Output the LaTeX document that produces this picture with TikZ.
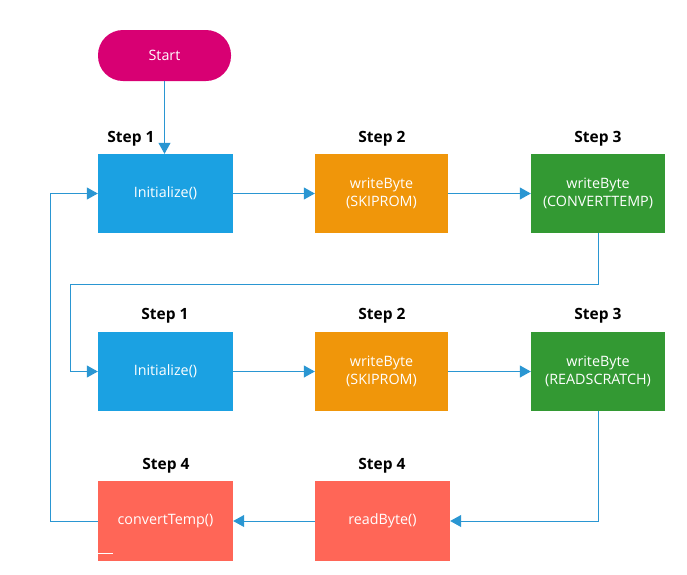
\documentclass[tikz,border=0pt]{standalone}
\usepackage{fontspec}
\setmainfont{Open Sans}
\usetikzlibrary{arrows.meta}
\definecolor{cblue}{HTML}{1BA1E2}
\definecolor{corange}{HTML}{F0960A}
\definecolor{cgreen}{HTML}{339933}
\definecolor{cred}{HTML}{FF6657}
\definecolor{cmag}{HTML}{D80073}
\definecolor{cline}{HTML}{2A96D2}
\tikzset{
  box/.style={minimum width=135pt,minimum height=79pt,inner sep=0pt,text=white,align=center,font=\fontsize{14.3}{17.5}\selectfont},
  steplabel/.style={font=\bfseries\fontsize{15.5}{18}\selectfont,inner sep=0pt},
  conn/.style={draw=cline,line width=1pt,-{Triangle[length=11pt,width=12pt]}}
}
\begin{document}
\begin{tikzpicture}[x=1pt,y=-1pt]
\useasboundingbox (0,0) rectangle (687,574);
\node[box,fill=cmag,rounded corners=25pt,minimum width=133pt,minimum height=51pt] (start) at (164.5,55.5) {Start};
% row 1
\node[box,fill=cblue] (a1) at (165.5,193.5) {Initialize()};
\node[box,fill=corange,minimum width=133pt] (a2) at (381.5,193.5) {writeByte\\(SKIPROM)};
\node[box,fill=cgreen,minimum width=134pt] (a3) at (598,193.5) {writeByte\\(CONVERTTEMP)};
% row 2
\node[box,fill=cblue] (b1) at (165.5,371.5) {Initialize()};
\node[box,fill=corange,minimum width=133pt] (b2) at (381.5,371.5) {writeByte\\(SKIPROM)};
\node[box,fill=cgreen,minimum width=134pt] (b3) at (598,371.5) {writeByte\\(READSCRATCH)};
% row 3
\node[box,fill=cred,minimum height=80pt] (c1) at (165.5,521) {convertTemp()};
\node[box,fill=cred,minimum height=80pt] (c2) at (382.5,521) {readByte()};
% step labels
\node[steplabel] (s11) at (131,139) {Step 1};
\node[steplabel] (s12) at (382,139) {Step 2};
\node[steplabel] (s13) at (598,139) {Step 3};
\node[steplabel] (s21) at (165,316) {Step 1};
\node[steplabel] (s22) at (382,316) {Step 2};
\node[steplabel] (s23) at (598,316) {Step 3};
\node[steplabel] (s31) at (166,466) {Step 4};
\node[steplabel] (s32) at (382,466) {Step 4};
% small artifact line
\coordinate (ma) at (98,553.5);
\coordinate (mb) at (113,553.5);
\draw[white,line width=0.8pt] (ma) -- (mb);
% connectors
\draw[conn] (start.south) -- (start.south |- a1.north);
\draw[conn] (a1.east) -- (a2.west);
\draw[conn] (a2.east) -- (a3.west);
\coordinate (k1) at (598,284);
\coordinate (k2) at (70,284);
\draw[conn] (a3.south) -- (k1) -- (k2) -- (k2 |- b1.west) -- (b1.west);
\draw[conn] (b1.east) -- (b2.west);
\draw[conn] (b2.east) -- (b3.west);
\draw[conn] (b3.south) -- (b3.south |- c2.east) -- (c2.east);
\draw[conn] (c2.west) -- (c1.east);
\coordinate (k3) at (50,521);
\draw[conn] (c1.west) -- (k3) -- (k3 |- a1.west) -- (a1.west);
\end{tikzpicture}
\end{document}
